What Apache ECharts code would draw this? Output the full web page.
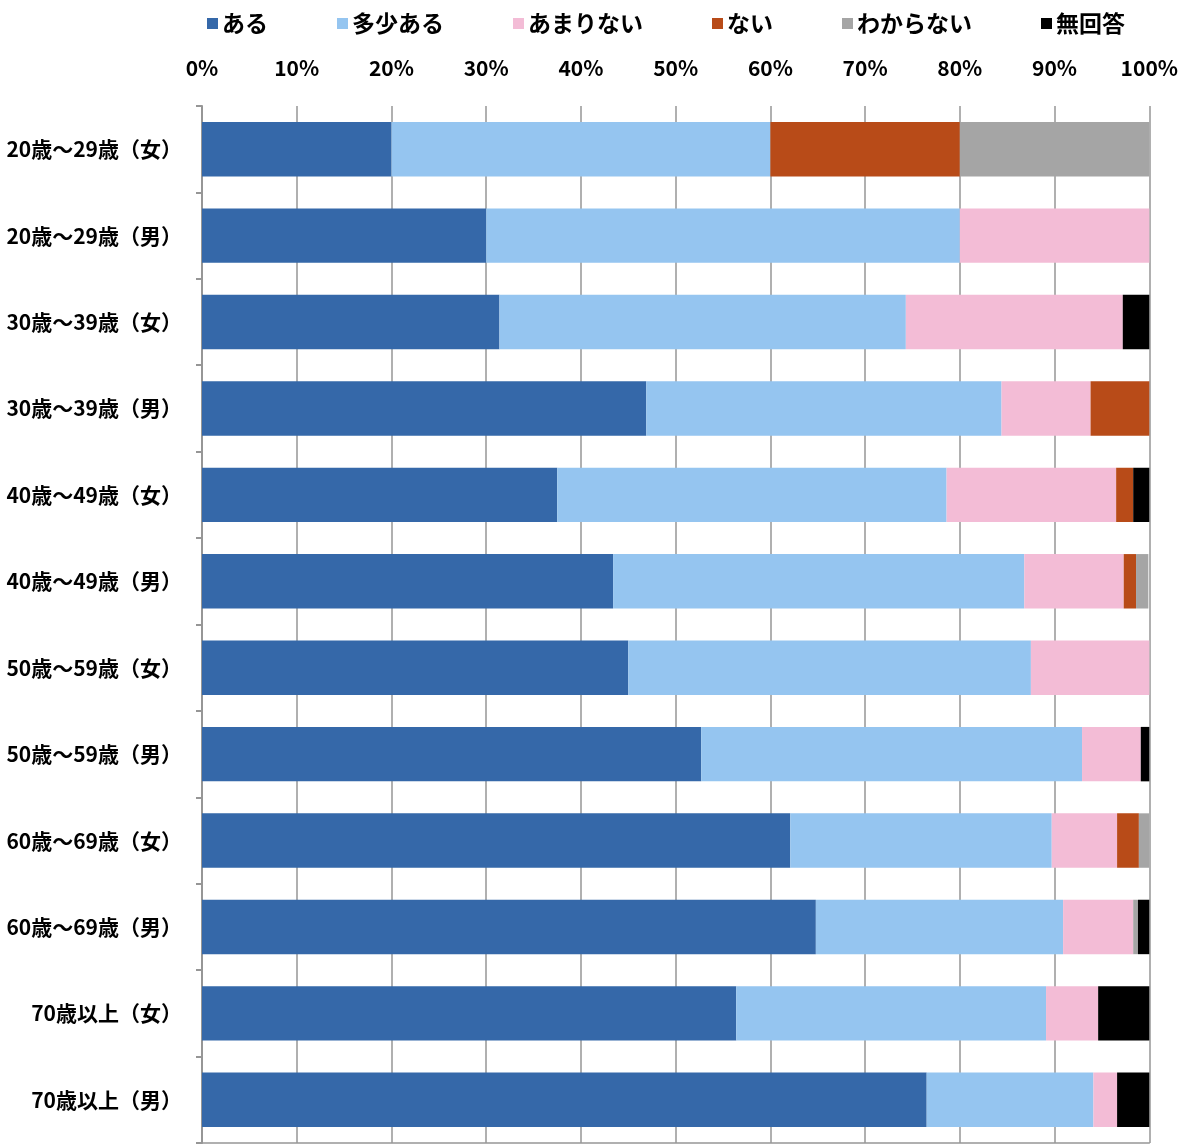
<!DOCTYPE html>
<html><head><meta charset="utf-8">
<script src="https://cdn.jsdelivr.net/npm/echarts@6/dist/echarts.min.js"></script>
<style>html,body{margin:0;padding:0;background:#fff}#c{width:1181px;height:1144px}</style>
</head><body><div id="c"></div>
<script>
const categories = ['20歳～29歳（女）','20歳～29歳（男）','30歳～39歳（女）','30歳～39歳（男）','40歳～49歳（女）','40歳～49歳（男）','50歳～59歳（女）','50歳～59歳（男）','60歳～69歳（女）','60歳～69歳（男）','70歳以上（女）','70歳以上（男）'];
const seriesNames = ['ある','多少ある','あまりない','ない','わからない','無回答'];
const aru        = [20, 30, 31.4, 46.9, 37.5, 43.4, 45.0, 52.7, 62.1, 64.8, 56.4, 76.5];
const tashouAru  = [40, 50, 42.9, 37.5, 41.1, 43.4, 42.5, 40.2, 27.6, 26.1, 32.7, 17.6];
const amariNai   = [0, 20, 22.9, 9.4, 17.9, 10.5, 12.5, 6.2, 6.9, 7.4, 5.5, 2.5];
const nai        = [20, 0, 0, 6.2, 1.8, 1.3, 0, 0, 2.3, 0, 0, 0];
const wakaranai  = [20, 0, 0, 0, 0, 1.3, 0, 0, 1.1, 0.5, 0, 0];
const mukaitou   = [0, 0, 2.9, 0, 1.8, 0, 0, 0.9, 0, 1.2, 5.5, 3.4];
const tickLabels = ['0%','10%','20%','30%','40%','50%','60%','70%','80%','90%','100%'];

const colors = ['#3568a9','#95c5f0','#f3bcd6','#b84b18','#a5a5a5','#000000'];
const values = [aru, tashouAru, amariNai, nai, wakaranai, mukaitou];
const font = "'Noto Sans CJK JP', sans-serif";
const chart = echarts.init(document.getElementById('c'), null, {renderer:'canvas'});
chart.setOption({
  animation: false,
  color: colors,
  legend: {
    top: 7, left: 202, itemGap: 69, itemWidth: 11, itemHeight: 11, icon: 'rect',
    textStyle: {fontFamily: font, fontSize: 23, fontWeight: 'bold', color: '#000', padding: [0,0,0,-1]},
    data: seriesNames
  },
  grid: {left: 202, right: 31, top: 106, bottom: 1},
  xAxis: [{
    type: 'value', position: 'top', min: 0, max: 100, interval: 10,
    axisLine: {show: false}, axisTick: {show: false},
    axisLabel: {margin: 27, fontFamily: "'Liberation Sans Narrow', 'Noto Sans CJK JP', sans-serif", fontWeight: 'bold', fontSize: 21, color: '#000',
      formatter: (v) => tickLabels[Math.round(v / 10)]},
    splitLine: {show: true, lineStyle: {color: '#969696', width: 1.5}}
  }, {
    type: 'value', position: 'bottom', min: 0, max: 100, interval: 10,
    axisLine: {show: true, lineStyle: {color: '#969696', width: 1.5}}, axisTick: {show: false},
    axisLabel: {show: false}, splitLine: {show: false}
  }],
  yAxis: {
    type: 'category', inverse: true, data: categories,
    axisLine: {show: true, lineStyle: {color: '#969696', width: 2}},
    axisTick: {show: true, length: 6, lineStyle: {color: '#969696', width: 2}},
    axisLabel: {margin: 20, fontFamily: font, fontSize: 21, fontWeight: 'bold', color: '#000'}
  },
  series: seriesNames.map((n, i) => ({
    name: n, type: 'bar', stack: 'total', barWidth: '63%', xAxisIndex: 0,
    data: values[i], itemStyle: {color: colors[i]}
  }))
});
</script></body></html>
